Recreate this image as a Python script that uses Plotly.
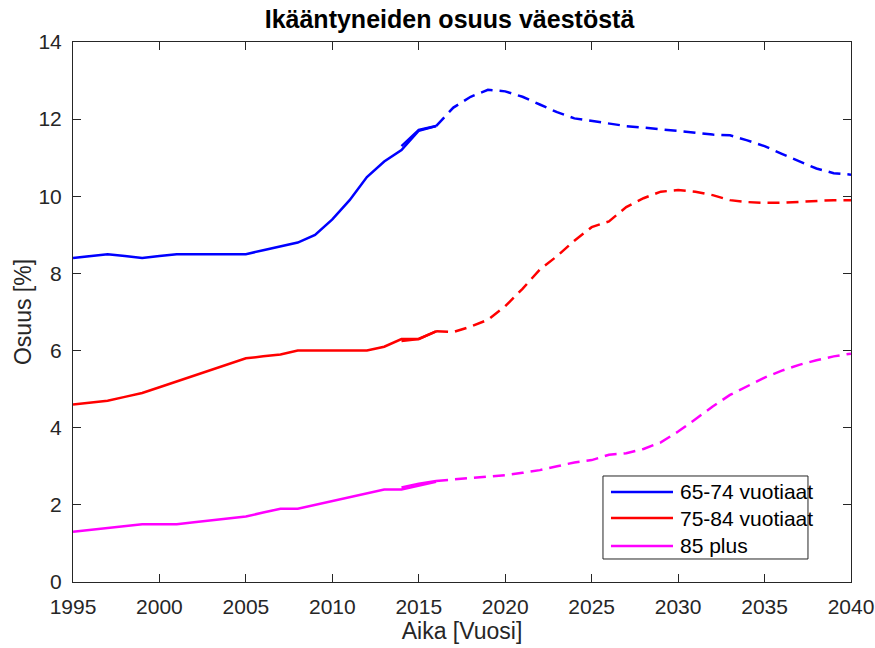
import plotly.graph_objects as go

hist_years = list(range(1995, 2017))
hist_6574 = [8.4, 8.45, 8.5, 8.45, 8.4, 8.45, 8.5, 8.5, 8.5, 8.5, 8.5, 8.6, 8.7, 8.8, 9.0, 9.4, 9.9, 10.5, 10.9, 11.2, 11.7, 11.82]
hist_7584 = [4.6, 4.65, 4.7, 4.8, 4.9, 5.05, 5.2, 5.35, 5.5, 5.65, 5.8, 5.85, 5.9, 6.0, 6.0, 6.0, 6.0, 6.0, 6.1, 6.3, 6.3, 6.5]
hist_85 = [1.3, 1.35, 1.4, 1.45, 1.5, 1.5, 1.5, 1.55, 1.6, 1.65, 1.7, 1.8, 1.9, 1.9, 2.0, 2.1, 2.2, 2.3, 2.4, 2.4, 2.5, 2.6]

proj_years = list(range(2014, 2041))
proj_6574 = [11.3, 11.72, 11.82, 12.3, 12.58, 12.76, 12.72, 12.58, 12.38, 12.18, 12.02, 11.95, 11.88, 11.82,
             11.78, 11.74, 11.7, 11.65, 11.6, 11.58, 11.45, 11.3, 11.1, 10.92, 10.72, 10.6, 10.56]
proj_7584 = [6.25, 6.3, 6.5, 6.48, 6.62, 6.8, 7.15, 7.6, 8.1, 8.45, 8.85, 9.2, 9.35, 9.72,
             9.95, 10.12, 10.16, 10.12, 10.03, 9.9, 9.85, 9.83, 9.83, 9.85, 9.88, 9.9, 9.9]
proj_85 = [2.45, 2.55, 2.62, 2.66, 2.7, 2.73, 2.77, 2.83, 2.9, 3.0, 3.1, 3.16, 3.3, 3.34,
           3.45, 3.62, 3.9, 4.22, 4.55, 4.85, 5.08, 5.3, 5.48, 5.63, 5.75, 5.85, 5.92]

names = ["65-74 vuotiaat", "75-84 vuotiaat", "85 plus"]
colors = ["#0000FF", "#FF0000", "#FF00FF"]
x_ticks = list(range(1995, 2041, 5))
y_ticks = list(range(0, 15, 2))

FONT = "Liberation Sans, Arial, Helvetica, sans-serif"
AX = "#262626"
LW = 2.5
W, H = 875, 648
fig = go.Figure()
n_solid = 3
for name, col, h, p in zip(names, colors, [hist_6574, hist_7584, hist_85], [proj_6574, proj_7584, proj_85]):
    fig.add_trace(go.Scatter(x=hist_years, y=h, mode="lines", name=name,
                             line=dict(color=col, width=LW), showlegend=False))
    fig.add_trace(go.Scatter(x=proj_years[:n_solid], y=p[:n_solid], mode="lines", name=name,
                             line=dict(color=col, width=LW), showlegend=False))
    fig.add_trace(go.Scatter(x=proj_years[n_solid - 1:], y=p[n_solid - 1:], mode="lines", name=name,
                             line=dict(color=col, width=LW, dash="12px,7px"), showlegend=False))

axis_common = dict(showgrid=False, zeroline=False, showline=True, linecolor=AX, linewidth=1,
                   mirror="ticks", ticks="inside", ticklen=8, tickcolor=AX, automargin=False,
                   tickfont=dict(family=FONT, size=21, color=AX))
fig.update_xaxes(range=[1995, 2040], tickvals=x_ticks, ticktext=[str(v) for v in x_ticks],
                 ticklabelstandoff=6,
                 title=dict(text="Aika [Vuosi]", font=dict(family=FONT, size=23, color=AX), standoff=2),
                 **axis_common)
fig.update_yaxes(range=[0, 14], tickvals=y_ticks, ticktext=[str(v) for v in y_ticks],
                 ticklabelstandoff=6,
                 title=dict(text="Osuus [%]", font=dict(family=FONT, size=23, color=AX), standoff=0),
                 **axis_common)

# legend box (drawn in paper coordinates)
lx0, lx1, ly0, ly1 = 0.6812, 0.9447, 0.0426, 0.1963
fig.add_shape(type="rect", xref="paper", yref="paper", x0=lx0, x1=lx1, y0=ly0, y1=ly1,
              line=dict(color=AX, width=1), fillcolor="white", layer="above")
row_y = [0.1667, 0.1185, 0.0667]
for name, col, ry in zip(names, colors, row_y):
    fig.add_shape(type="line", xref="paper", yref="paper", x0=0.6915, x1=0.7712, y0=ry, y1=ry,
                  line=dict(color=col, width=LW), layer="above")
    fig.add_annotation(xref="paper", yref="paper", x=0.7776, y=ry, xanchor="left", yanchor="middle",
                       text=name, showarrow=False, font=dict(family=FONT, size=21, color="black"))

fig.update_layout(
    width=W, height=H,
    margin=dict(l=73, r=24, t=42, b=66, autoexpand=False),
    paper_bgcolor="white", plot_bgcolor="white",
    title=dict(text="<b>Ikääntyneiden osuus väestöstä</b>", x=449.5 / W, xanchor="center",
               y=1 - 19.5 / H, yanchor="middle", font=dict(family=FONT, size=25, color="black")),
    showlegend=False,
)

fig.write_html("out.html", config={"displayModeBar": False},
               post_script="document.body.style.margin='0';")
